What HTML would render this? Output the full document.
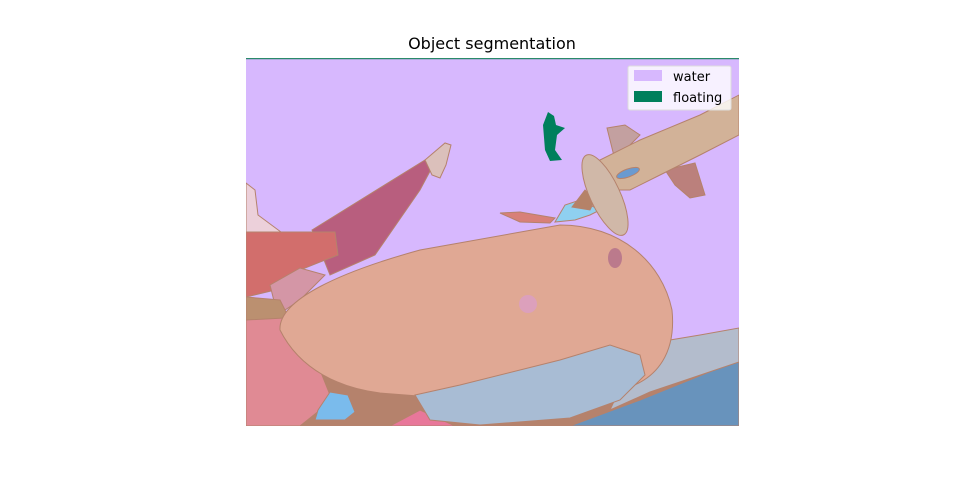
<!DOCTYPE html>
<html><head><meta charset="utf-8"><style>
body{margin:0;background:#fff}
svg{display:block;font-family:"DejaVu Sans","Liberation Sans",sans-serif}
</style></head><body>
<svg width="960" height="480" viewBox="0 0 960 480">
<text x="492" y="49" text-anchor="middle" font-size="16" fill="#000">Object segmentation</text>
<defs><clipPath id="c"><rect x="246" y="58" width="493" height="368"/></clipPath></defs>
<g clip-path="url(#c)" stroke="#b5826c" stroke-width="1">
<rect x="246" y="58" width="493" height="368" fill="#d7b8fe" stroke="none"/>
<rect x="246" y="370" width="493" height="56" fill="#b5826c" stroke="none"/>
<polygon points="246,183 255,190 258,215 285,235 246,240" fill="#ecd0da"/>
<polygon points="312,230 425,160 436,160 420,190 375,255 330,275" fill="#b85e7e"/>
<polygon points="425,160 445,143 451,145 446,165 440,178 432,175" fill="#dbc0bb"/>
<polygon points="246,232 335,232 338,255 320,262 300,270 275,290 246,297" fill="#d26e6c"/>
<polygon points="270,285 300,268 325,275 300,300 285,310 275,305" fill="#d496a6"/>
<polygon points="246,297 280,300 290,320 246,320" fill="#bb9070"/>
<polygon points="246,320 285,318 320,370 330,395 320,410 300,426 246,426" fill="#e08a94"/>
<polygon points="390,426 420,410 455,426" fill="#e8779a"/>
<polygon points="570,426 640,400 739,360 739,426" fill="#6893bc"/>
<polygon points="640,345 700,335 739,328 739,362 650,392 610,410" fill="#b3bccc"/>
<path d="M280,330 C278,300 340,272 420,250 L560,225 C620,225 662,262 672,310 C676,350 660,380 620,390 L470,400 L380,393 C340,388 300,370 280,330 Z" fill="#e0a894"/>
<polygon points="415,395 460,385 560,360 610,345 640,355 645,375 620,400 570,418 480,425 430,420" fill="#a8bcd4"/>
<polygon points="318,410 330,392 348,395 355,412 345,420 315,420" fill="#7abbec"/>
<polygon points="500,213 520,212 555,218 550,223 520,222" fill="#d88078"/>
<polygon points="555,222 565,205 580,200 600,210 590,215 575,220" fill="#8fd0f0"/>
<polygon points="607,128 625,125 640,135 615,160" fill="#c3a0a0"/>
<polygon points="665,170 695,163 705,195 690,198 675,185" fill="#bb807c"/>
<polygon points="590,165 640,140 700,115 739,95 739,135 700,155 660,175 630,190 610,190" fill="#d2b298"/>
<ellipse cx="628" cy="173" rx="12" ry="4" transform="rotate(-20 628 173)" fill="#6a9ad0"/>
<polygon points="572,207 585,190 595,200 590,210" fill="#b58268"/>
<ellipse cx="605" cy="195" rx="15" ry="44" transform="rotate(-25 605 195)" fill="#d0b8a8"/>
<ellipse cx="615" cy="258" rx="7" ry="10" fill="#bb7a8c" stroke="none"/>
<circle cx="528" cy="304" r="9" fill="#dca0bc" stroke="none"/>
<polygon points="548,112 554,116 556,125 565,128 557,135 555,150 562,160 550,161 545,150 543,125" fill="#007f5c" stroke="none"/>
<line x1="246" y1="58.5" x2="739" y2="58.5" stroke="#2a8a6a" stroke-width="1.5"/>
</g>
<g id="legend">
<rect x="628" y="66" width="103" height="44" rx="2" fill="#fff" fill-opacity="0.8" stroke="#ddd"/>
</g>
<script>
const labels=["water","floating"];
const colors=["#d7b8fe","#007f5c"];
const g=document.getElementById('legend');
const ns="http://www.w3.org/2000/svg";
labels.forEach((l,i)=>{
 const r=document.createElementNS(ns,'rect');
 r.setAttribute('x',634);r.setAttribute('y',70+i*21);r.setAttribute('width',28);r.setAttribute('height',11);r.setAttribute('fill',colors[i]);
 
 
 g.appendChild(r);
 const t=document.createElementNS(ns,'text');
 t.setAttribute('x',673);t.setAttribute('y',81+i*21);t.setAttribute('font-size','13');t.textContent=l;
 
 
 g.appendChild(t);
});
</script>
</svg>
</body></html>
